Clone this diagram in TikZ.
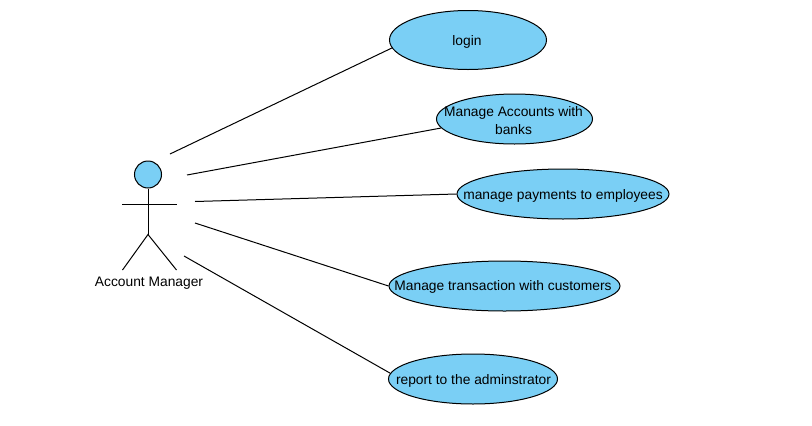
\documentclass[tikz,border=0pt]{standalone}
\usepackage{fontspec}
\setmainfont{Liberation Sans}
\usetikzlibrary{shapes.geometric}
\definecolor{ucfill}{HTML}{7ACFF5}
\tikzset{
  usecase/.style={ellipse,draw=black,fill=ucfill,line width=1pt,inner sep=0pt},
  uctext/.style={inner sep=0pt,align=center,text=black,yshift=-2pt,xshift=-1pt,font=\fontsize{13.8}{18}\selectfont},
  stick/.style={draw=black,line width=1pt},
  assoc/.style={draw=black,line width=1pt},
  actorhead/.style={circle,draw=black,fill=ucfill,line width=1pt,inner sep=0pt,minimum size=27pt},
  actorlabel/.style={inner sep=0pt,text=black,font=\fontsize{13.8}{15}\selectfont}
}
\begin{document}
\begin{tikzpicture}[x=1pt,y=-1pt]
\useasboundingbox (0,0) rectangle (812,426);
\fill[white] (0,0) rectangle (812,426);
% use cases
\node[usecase,minimum width=157pt,minimum height=59pt,label={[uctext]center:login}] (login) at (468,40) {};
\node[usecase,minimum width=156pt,minimum height=50pt,label={[uctext,yshift=0.5pt]center:{Manage Accounts with\\banks}}] (accounts) at (514.5,119) {};
\node[usecase,minimum width=212pt,minimum height=50pt,label={[uctext,xshift=1pt]center:manage payments to employees}] (payments) at (563,194) {};
\node[usecase,minimum width=231pt,minimum height=50pt,label={[uctext,xshift=-0.5pt,yshift=1pt]center:Manage transaction with customers}] (transaction) at (504.5,286) {};
\node[usecase,minimum width=169pt,minimum height=50pt,label={[uctext,xshift=1.5pt]center:report to the adminstrator}] (report) at (473,379) {};
% actor
\node[actorhead] (head) at (148,174.5) {};
\coordinate (hip) at (148,234.5);
\coordinate (armL) at (122,204);
\coordinate (armR) at (176.7,204);
\coordinate (footL) at (122.5,270);
\coordinate (footR) at (176.5,270);
\draw[stick] (head.south) -- (hip);
\draw[stick] (armL) -- (armR);
\draw[stick] (footL) -- (hip) -- (footR);
\node[actorlabel] (actor) at (149,283) {Account Manager};
% free ends near the actor
\coordinate (a1) at (170,154);
\coordinate (a2) at (187,175);
\coordinate (a3) at (195,201.5);
\coordinate (a4) at (195,223);
\coordinate (a5) at (184,256);
% associations
\draw[assoc] (a1) -- (login.186);
\draw[assoc] (a2) -- (accounts.187);
\draw[assoc] (a3) -- (payments.180);
\draw[assoc] (a4) -- (transaction.180);
\draw[assoc] (a5) -- (report.176);
\end{tikzpicture}
\end{document}
